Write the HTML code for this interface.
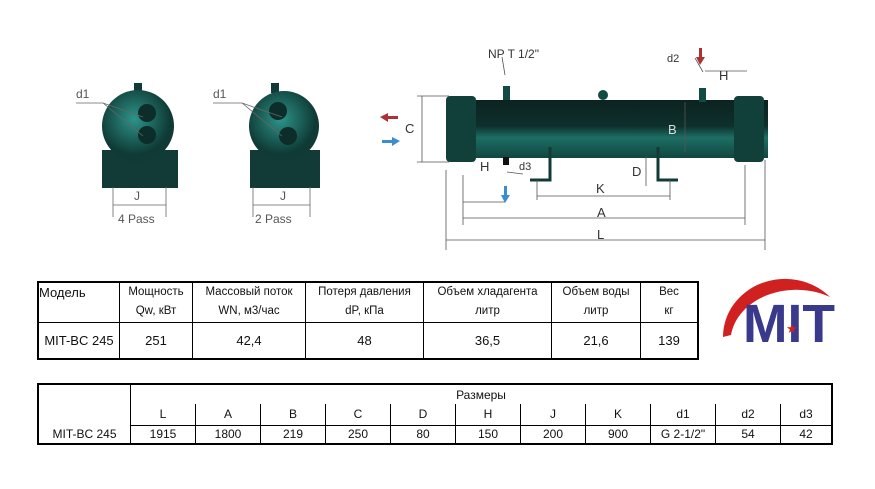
<!DOCTYPE html>
<html><head><meta charset="utf-8"><style>
body{margin:0;background:#fff;width:875px;height:489px;overflow:hidden;position:relative;font-family:"Liberation Sans",sans-serif}
table{position:absolute;border-collapse:collapse;font-family:"Liberation Sans","DejaVu Sans",sans-serif;font-size:11.5px;color:#111}
td{border:1.5px solid #000;text-align:center;padding:0}
#t1{left:37px;top:281px;width:662px;border:2.5px solid #000}
#t1 tr:first-child td{line-height:19px}
#t2{left:37px;top:383px;width:796px;border:2.5px solid #000}
</style></head><body>
<svg width="875" height="270" style="position:absolute;left:0;top:0" font-family="Liberation Sans,sans-serif" fill="none">
<defs><linearGradient id="g" x1="0" y1="0" x2="0" y2="1"><stop offset="0" stop-color="#0b2220"/><stop offset=".45" stop-color="#0e302c"/><stop offset=".65" stop-color="#1d6e64"/><stop offset="1" stop-color="#114640"/></linearGradient>
<radialGradient id="r" cx=".45" cy=".4"><stop offset="0" stop-color="#2d948a"/><stop offset="1" stop-color="#0f3a35"/></radialGradient></defs>
<g>
<rect x="134" y="83" width="8" height="10" fill="#0f3a35"/>
<rect x="102" y="150" width="76" height="38" fill="#123a36"/>
<circle cx="138" cy="126" r="36" fill="url(#r)"/>
<circle cx="147" cy="113" r="9" fill="#0d2d2a"/><circle cx="147" cy="135" r="9" fill="#0d2d2a"/>
<rect x="271" y="83" width="8" height="10" fill="#0f3a35"/>
<rect x="250" y="150" width="70" height="38" fill="#123a36"/>
<circle cx="284" cy="126" r="35" fill="url(#r)"/>
<circle cx="278" cy="111" r="9" fill="#0d2d2a"/><circle cx="288" cy="136" r="9" fill="#0d2d2a"/>
</g>
<g stroke="#666" stroke-width="0.8">
<path d="M76 103h27l40 14M103 103l40 33M213 103h29l40 14M242 103l40 33"/>
<path d="M113 187v30M166 187v30M113 205h53M253 187v30M310 187v30M253 205h57"/>
</g>
<g fill="#555" font-size="12"><text x="76" y="98">d1</text><text x="213" y="98">d1</text>
<text x="134" y="200">J</text><text x="280" y="200">J</text>
<text x="118" y="223">4 Pass</text><text x="255" y="223">2 Pass</text></g>
<rect x="448" y="100" width="320" height="58" fill="url(#g)"/>
<rect x="446" y="96" width="30" height="66" rx="4" fill="#11403b"/>
<rect x="734" y="96" width="30" height="66" rx="4" fill="#11403b"/>
<rect x="503" y="86" width="7" height="14" fill="#124a44"/>
<rect x="699" y="88" width="7" height="14" fill="#124a44"/>
<rect x="503" y="157" width="6" height="8" fill="#111"/>
<circle cx="603" cy="95" r="5" fill="#124a44"/>
<path d="M550 147v33h-20M658 147v33h20" stroke="#123a36" stroke-width="3"/>
<g stroke="#555" stroke-width="0.8">
<path d="M417 96h32M417 162h32M422 96v66M685 102v50M646 156v30M446 170v80M765 160v90M463 175v50M745 165v60M537 180v20M670 180v20M463 202h42M507 172l16 2"/>
<path d="M537 196h133M463 218h282M446 240h319M705 71h42M703 72l-8-14M505 75l-3-18"/>
</g>
<g fill="#333" font-size="13"><text x="488" y="58" font-size="12">NP T 1/2"</text><text x="667" y="62" font-size="11">d2</text>
<text x="719" y="80">H</text><text x="405" y="133">C</text><text x="668" y="134" fill="#ddd">B</text>
<text x="480" y="171">H</text><text x="519" y="170" font-size="11">d3</text><text x="632" y="176">D</text>
<text x="596" y="193">K</text><text x="597" y="217">A</text><text x="597" y="239">L</text></g>
<path d="M380 117l8-4v3h10v3h-10v3z" fill="#a33"/>
<path d="M400 141l-8-4v3h-10v3h10v3z" fill="#3a8ed0"/>
<path d="M700 65l-4-8h3v-9h3v9h3z" fill="#a33"/>
<path d="M505 203l-4-8h3v-9h3v9h3z" fill="#3a8ed0"/>
</svg>
<table id="t1">
<tr style="height:40px"><td style="text-align:left;vertical-align:top;font-size:13px;width:80px">Модель</td><td style="width:72px">Мощность<br>Qw, кВт</td><td style="width:112px">Массовый поток<br>WN, м3/час</td><td style="width:117px">Потеря давления<br>dP, кПа</td><td style="width:127px">Объем хладагента<br>литр</td><td style="width:88px">Объем воды<br>литр</td><td>Вес<br>кг</td></tr>
<tr style="height:37px;font-size:13px"><td>MIT-BC 245</td><td>251</td><td>42,4</td><td>48</td><td>36,5</td><td>21,6</td><td>139</td></tr>
</table>
<table id="t2">
<tr style="height:20px"><td rowspan="2" style="width:91px;border-bottom:none"></td><td colspan="11" style="border-bottom:none;font-size:12px">Размеры</td></tr>
<tr style="height:21px;font-size:12px"><td style="border-top:none;width:64px">L</td><td style="border-top:none;width:64px">A</td><td style="border-top:none;width:64px">B</td><td style="border-top:none;width:64px">C</td><td style="border-top:none;width:64px">D</td><td style="border-top:none;width:64px">H</td><td style="border-top:none;width:64px">J</td><td style="border-top:none;width:64px">K</td><td style="border-top:none;width:64px">d1</td><td style="border-top:none;width:64px">d2</td><td style="border-top:none">d3</td></tr>
<tr style="height:19px;font-size:12px"><td style="border-top:none">MIT-BC 245</td><td>1915</td><td>1800</td><td>219</td><td>250</td><td>80</td><td>150</td><td>200</td><td>900</td><td>G 2-1/2"</td><td>54</td><td>42</td></tr>
</table>
<svg width="130" height="80" style="position:absolute;left:715px;top:275px">
<path d="M8 62 A62 58 0 0 1 115 22 A66 52 0 0 0 16 60 Z" fill="#d02020"/>
<text x="28" y="67" font-family="Liberation Sans,sans-serif" font-weight="bold" font-size="54" fill="#3a3a8c" textLength="92" lengthAdjust="spacingAndGlyphs">MIT</text>
<text x="71" y="58" font-size="13" fill="#d02020">★</text>
</svg>
</body></html>
